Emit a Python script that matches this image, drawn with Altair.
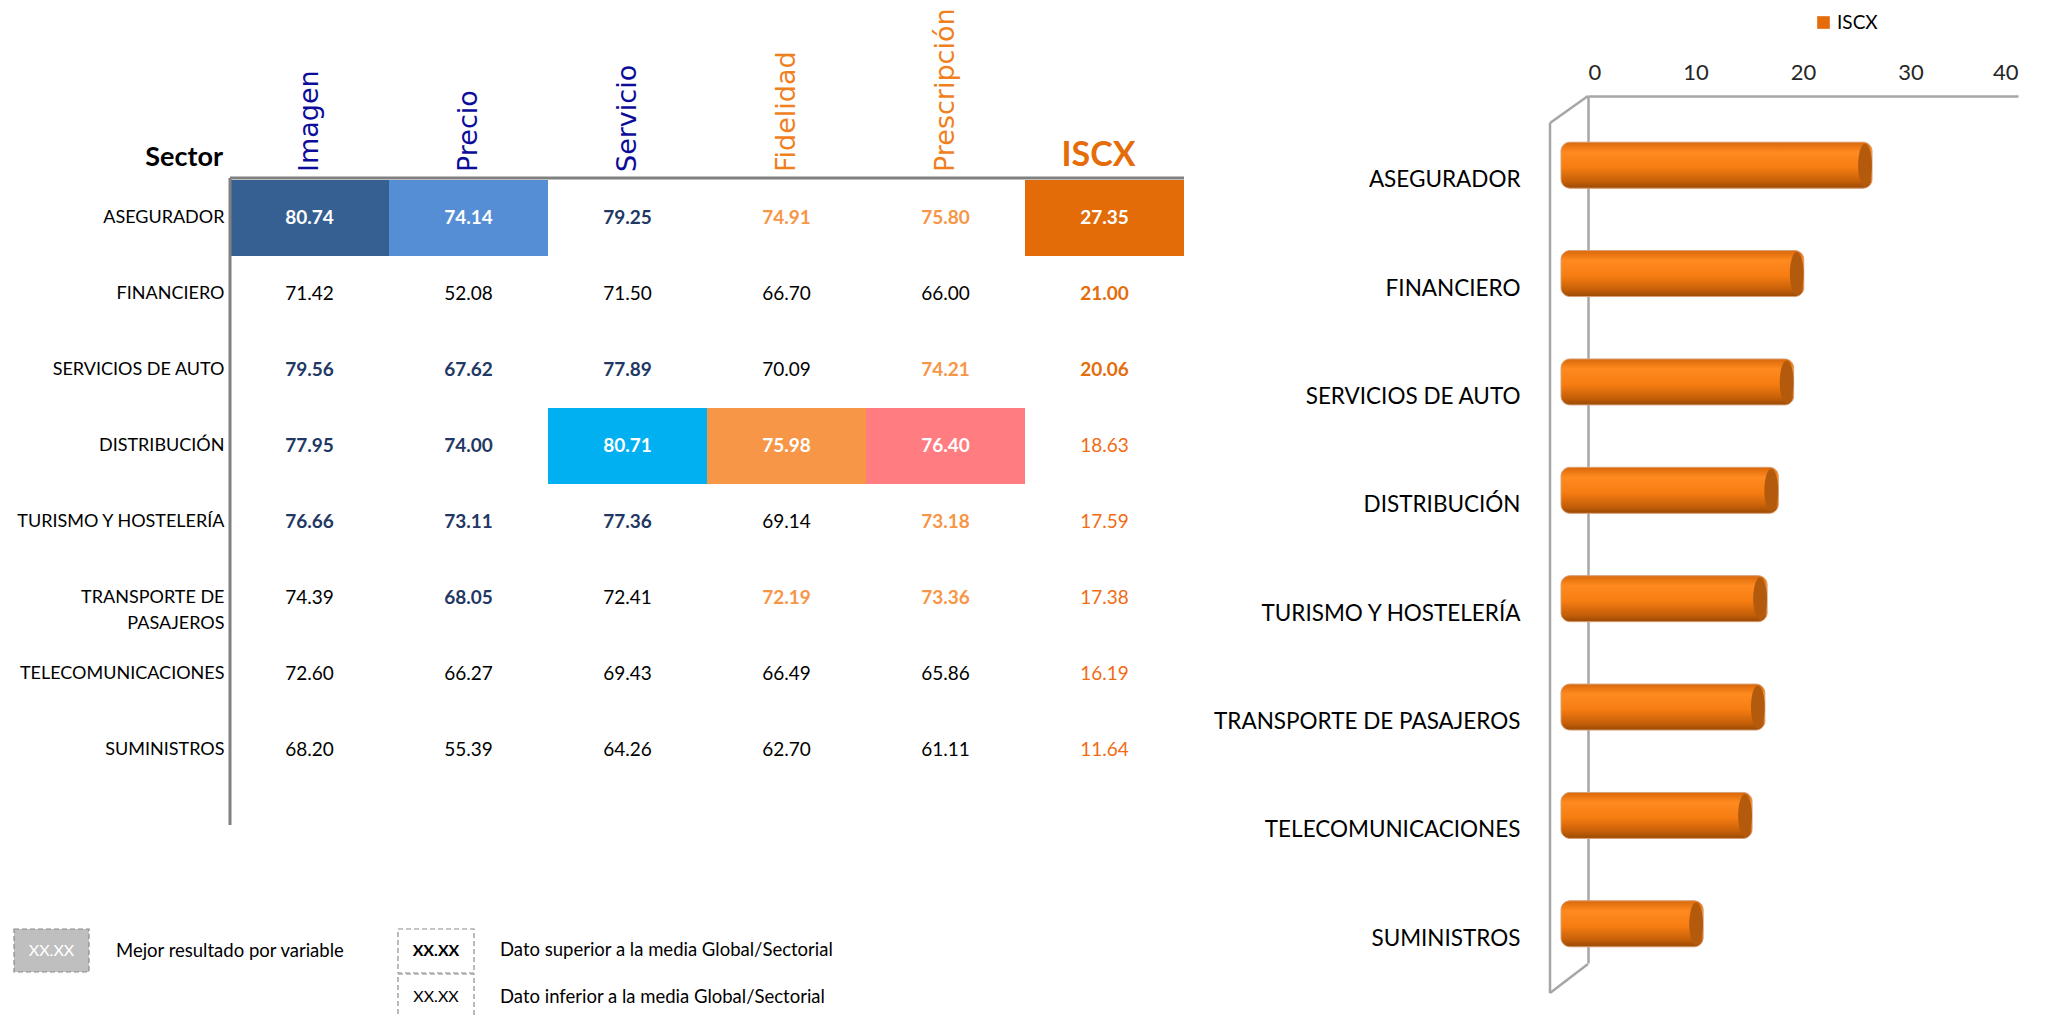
import altair as alt
import pandas as pd

# ---------------- data ----------------
sectors = ["ASEGURADOR", "FINANCIERO", "SERVICIOS DE AUTO", "DISTRIBUCIÓN",
           "TURISMO Y HOSTELERÍA", "TRANSPORTE DE PASAJEROS",
           "TELECOMUNICACIONES", "SUMINISTROS"]
columns = ["Imagen", "Precio", "Servicio", "Fidelidad", "Prescripción", "ISCX"]

imagen = [80.74, 71.42, 79.56, 77.95, 76.66, 74.39, 72.60, 68.20]
precio = [74.14, 52.08, 67.62, 74.00, 73.11, 68.05, 66.27, 55.39]
servicio = [79.25, 71.50, 77.89, 80.71, 77.36, 72.41, 69.43, 64.26]
fidelidad = [74.91, 66.70, 70.09, 75.98, 69.14, 72.19, 66.49, 62.70]
prescripcion = [75.80, 66.00, 74.21, 76.40, 73.18, 73.36, 65.86, 61.11]
iscx = [27.35, 21.00, 20.06, 18.63, 17.59, 17.38, 16.19, 11.64]

# 2 = mejor resultado, 1 = superior a la media, 0 = inferior a la media
imagen_lvl = [2, 0, 1, 1, 1, 0, 0, 0]
precio_lvl = [2, 0, 1, 1, 1, 1, 0, 0]
servicio_lvl = [1, 0, 1, 2, 1, 0, 0, 0]
fidelidad_lvl = [1, 0, 0, 2, 0, 1, 0, 0]
prescripcion_lvl = [1, 0, 1, 2, 1, 1, 0, 0]
iscx_lvl = [2, 1, 1, 0, 0, 0, 0, 0]

legend_texts = ["Mejor resultado por variable",
                "Dato superior a la media Global/Sectorial",
                "Dato inferior a la media Global/Sectorial"]

# ---------------- styles ----------------
values_by_col = {"Imagen": imagen, "Precio": precio, "Servicio": servicio,
                 "Fidelidad": fidelidad, "Prescripción": prescripcion, "ISCX": iscx}
levels_by_col = {"Imagen": imagen_lvl, "Precio": precio_lvl, "Servicio": servicio_lvl,
                 "Fidelidad": fidelidad_lvl, "Prescripción": prescripcion_lvl, "ISCX": iscx_lvl}
best_fill = {"Imagen": "#366092", "Precio": "#558ED5", "Servicio": "#00B0F0",
             "Fidelidad": "#F79646", "Prescripción": "#FF7C80", "ISCX": "#E36C09"}
group_of = {"Imagen": "blue", "Precio": "blue", "Servicio": "blue",
            "Fidelidad": "orange", "Prescripción": "orange", "ISCX": "iscx"}
above_color = {"blue": "#1F3864", "orange": "#F79646", "iscx": "#E46C0A"}
below_color = {"blue": "#000000", "orange": "#000000", "iscx": "#F26B12"}
header_color = {"blue": "#0C0C99", "orange": "#F07F1E", "iscx": "#E46C0A"}

rows = []
for c in columns:
    for i, s in enumerate(sectors):
        lvl = levels_by_col[c][i]
        g = group_of[c]
        if lvl == 2:
            tc = "#FFFFFF"
        elif lvl == 1:
            tc = above_color[g]
        else:
            tc = below_color[g]
        rows.append({"col": c, "sector": s, "value": values_by_col[c][i],
                     "label": f"{values_by_col[c][i]:.2f}", "level": lvl,
                     "fill": best_fill[c], "tcolor": tc})
df = pd.DataFrame(rows)

hdr = pd.DataFrame({"col": columns, "hcolor": [header_color[group_of[c]] for c in columns]})

# ---------------- table (left) ----------------
TW, TH = 954, 729
xs = alt.Scale(type="band", domain=columns, paddingInner=0, paddingOuter=0)
ys = alt.Scale(type="band", domain=sectors, range=[84, 692], paddingInner=0, paddingOuter=0)
yax = alt.Axis(title=None, domain=False, ticks=False, tickSize=0, labelFont="Lato",
               labelFontSize=18, labelColor="#000000", labelPadding=6, labelLimit=400,
               labelLineHeight=26,
               labelExpr="datum.value == 'TRANSPORTE DE PASAJEROS' ? ['TRANSPORTE DE', 'PASAJEROS'] : datum.value")

X = alt.X("col:N", scale=xs, axis=None)
Y = alt.Y("sector:N", scale=ys, axis=yax)

cells = alt.Chart(df).transform_filter("datum.level == 2").mark_rect().encode(
    x=X, y=Y, fill=alt.Fill("fill:N", scale=None))

txt_bold = alt.Chart(df).transform_filter("datum.level >= 1").mark_text(
    font="Lato", fontSize=19, fontWeight="bold", baseline="middle").encode(
    x=X, y=Y, text="label:N", color=alt.Color("tcolor:N", scale=None))

txt_norm = alt.Chart(df).transform_filter("datum.level == 0").mark_text(
    font="Lato", fontSize=19, fontWeight="normal", baseline="middle").encode(
    x=X, y=Y, text="label:N", color=alt.Color("tcolor:N", scale=None))

hdr_rot = alt.Chart(hdr).transform_filter("datum.col != 'ISCX'").mark_text(
    font="DejaVu Sans", fontSize=27, angle=270, align="left", baseline="middle").encode(
    x=X, y=alt.value(76), text="col:N", color=alt.Color("hcolor:N", scale=None))

hdr_iscx = alt.Chart(hdr).transform_filter("datum.col == 'ISCX'").mark_text(
    font="Lato", fontSize=34, fontWeight="bold", align="center", baseline="alphabetic",
    dx=-6).encode(
    x=X, y=alt.value(70), text="col:N", color=alt.Color("hcolor:N", scale=None))

one = alt.Data(values=[{"k": 1}])
sector_hdr = alt.Chart(one).mark_text(font="Lato", fontSize=27, fontWeight="bold",
                                      align="right", baseline="alphabetic", color="#000000").encode(
    x=alt.value(-7), y=alt.value(70), text=alt.value("Sector"))

top_line = alt.Chart(one).mark_rule(color="#808080", strokeWidth=3).encode(
    x=alt.value(0), x2=alt.value(TW), y=alt.value(82))
left_line = alt.Chart(one).mark_rule(color="#808080", strokeWidth=3).encode(
    x=alt.value(0), y=alt.value(82), y2=alt.value(TH))

# key (legend) boxes under the table
box_style = dict(strokeDash=[5, 3], stroke="#8C8C8C", strokeWidth=1.2)
box1 = alt.Chart(one).mark_rect(fill="#BFBFBF", **box_style).encode(
    x=alt.value(-216), x2=alt.value(-141), y=alt.value(833), y2=alt.value(876))
box1_t = alt.Chart(one).mark_text(font="Lato", fontSize=16, color="#FFFFFF").encode(
    x=alt.value(-178.5), y=alt.value(855), text=alt.value("XX.XX"))
box1_l = alt.Chart(one).mark_text(font="Lato", fontSize=18.5, align="left", color="#000000").encode(
    x=alt.value(-114), y=alt.value(855), text=alt.value(legend_texts[0]))
box2 = alt.Chart(one).mark_rect(fill="#FFFFFF", **box_style).encode(
    x=alt.value(168), x2=alt.value(244), y=alt.value(833), y2=alt.value(877))
box2_t = alt.Chart(one).mark_text(font="Lato", fontSize=16, fontWeight="bold", color="#000000").encode(
    x=alt.value(206), y=alt.value(855), text=alt.value("XX.XX"))
box2_l = alt.Chart(one).mark_text(font="Lato", fontSize=18.5, align="left", color="#000000").encode(
    x=alt.value(270), y=alt.value(854), text=alt.value(legend_texts[1]))
box3 = alt.Chart(one).mark_rect(fill="#FFFFFF", **box_style).encode(
    x=alt.value(168), x2=alt.value(244), y=alt.value(878), y2=alt.value(922))
box3_t = alt.Chart(one).mark_text(font="Lato", fontSize=16, color="#000000").encode(
    x=alt.value(206), y=alt.value(901), text=alt.value("XX.XX"))
box3_l = alt.Chart(one).mark_text(font="Lato", fontSize=18.5, align="left", color="#000000").encode(
    x=alt.value(270), y=alt.value(901), text=alt.value(legend_texts[2]))

left = alt.layer(cells, txt_bold, txt_norm, hdr_rot, hdr_iscx, sector_hdr,
                 top_line, left_line, box1, box1_t, box1_l, box2, box2_t, box2_l,
                 box3, box3_t, box3_l).properties(width=TW, height=TH)

# ---------------- bar chart (right) ----------------
BW, BH = 430, 867
XMAX = 40
PX_PER_UNIT = BW / XMAX
START_SHIFT_PX = 27   # 3-D depth: cylinder starts in front of the back wall
END_SHIFT_PX = 10

bar_df = pd.DataFrame({"sector": sectors, "iscx": iscx, "serie": ["ISCX"] * len(sectors)})
xb = alt.Scale(domain=[0, XMAX], nice=False)
yb = alt.Scale(type="band", domain=sectors, paddingInner=0, paddingOuter=0)
xax = alt.Axis(orient="top", values=[0, 10, 20, 30, 40], title=None, grid=False, ticks=False,
               tickSize=0, labelFont="Lato", labelFontSize=22, labelColor="#262626",
               labelPadding=12, domainColor="#A6A6A6", domainWidth=2.5)
yax2 = alt.Axis(title=None, ticks=False, tickSize=0, labelFont="Lato", labelFontSize=22.5,
                labelColor="#000000", labelPadding=68, labelOffset=30, labelLimit=500,
                domainColor="#A6A6A6", domainWidth=2.5)

bars_base = alt.Chart(bar_df).transform_calculate(
    x_start=f"-{START_SHIFT_PX}/{PX_PER_UNIT}",
    x_end=f"datum.iscx - {END_SHIFT_PX}/{PX_PER_UNIT}")

XB = alt.X("x_end:Q", scale=xb, axis=xax)
YB = alt.Y("sector:N", scale=yb, axis=yax2)

base_bar = bars_base.mark_bar(size=46, yOffset=15, cornerRadius=9).encode(
    x=XB, x2="x_start:Q", y=YB,
    color=alt.Color("serie:N", scale=alt.Scale(range=["#E46C0A"]),
                    legend=alt.Legend(orient="none", legendX=226, legendY=-83, title=None,
                                      symbolType="square", symbolSize=160, symbolStrokeWidth=0,
                                      labelFont="Lato", labelFontSize=19, labelColor="#000000",
                                      padding=0, labelOffset=4)))

grad = alt.LinearGradient(
    gradient="linear", x1=0, x2=0, y1=0, y2=1,
    stops=[alt.GradientStop(offset=0, color="#D9680A"),
           alt.GradientStop(offset=0.22, color="#FF8A1F"),
           alt.GradientStop(offset=0.55, color="#F67D12"),
           alt.GradientStop(offset=0.85, color="#C65F08"),
           alt.GradientStop(offset=1, color="#9A4A05")])
grad_bar = bars_base.mark_bar(size=46, yOffset=15, cornerRadius=9,
                              fill=grad, stroke="#D9A27A", strokeWidth=1).encode(
    x=XB, x2="x_start:Q", y=YB)

ellipse = "M0,-1 A0.32,1 0 1,1 0,1 A0.32,1 0 1,1 0,-1 Z"
cap = bars_base.mark_point(shape=ellipse, filled=True, fill="#B35A0C", size=1850,
                           opacity=1, strokeWidth=0, xOffset=-7, yOffset=15).encode(
    x=XB, y=YB)

wall_style = dict(color="#A6A6A6", strokeWidth=2.5)
front_line = alt.Chart(one).mark_rule(**wall_style).encode(
    x=alt.value(-38), y=alt.value(27), y2=alt.value(897))
top_diag = alt.Chart(one).mark_rule(**wall_style).encode(
    x=alt.value(-38), y=alt.value(27), x2=alt.value(0), y2=alt.value(0))
bot_diag = alt.Chart(one).mark_rule(**wall_style).encode(
    x=alt.value(-38), y=alt.value(897), x2=alt.value(0), y2=alt.value(868))

right = alt.layer(front_line, top_diag, bot_diag, base_bar, grad_bar, cap).properties(
    width=BW, height=BH)

chart = alt.hconcat(left, right, spacing=404, bounds="flush").resolve_scale(
    color="independent", fill="independent").resolve_legend(color="independent").properties(
    padding={"left": 5, "top": 0, "right": 5, "bottom": 2}).configure_view(strokeWidth=0)

chart.save("out.html", embed_options={"renderer": "svg", "actions": False})
